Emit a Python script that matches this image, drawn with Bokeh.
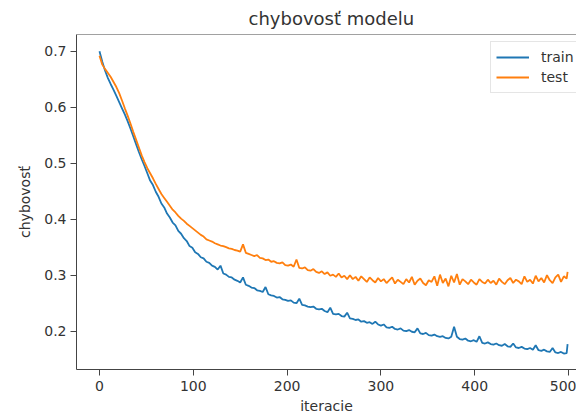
from bokeh.plotting import figure
from bokeh.models import Range1d, FixedTicker, Span, Legend, LegendItem
from bokeh.embed import file_html
from bokeh.resources import INLINE

iterations = list(range(0, 499, 3)) + [499]

train = [
    0.700, 0.681, 0.665, 0.652, 0.641, 0.631, 0.620, 0.609, 0.598, 0.587,
    0.575, 0.562, 0.548, 0.534, 0.520, 0.507, 0.495, 0.482, 0.469, 0.461,
    0.449, 0.440, 0.428, 0.421, 0.410, 0.403, 0.394, 0.389, 0.379, 0.374,
    0.366, 0.361, 0.352, 0.349, 0.341, 0.338, 0.332, 0.330, 0.324, 0.322,
    0.317, 0.315, 0.310, 0.317, 0.303, 0.301, 0.297, 0.296, 0.292, 0.290,
    0.287, 0.296, 0.283, 0.281, 0.278, 0.277, 0.273, 0.272, 0.270, 0.279,
    0.266, 0.264, 0.263, 0.260, 0.261, 0.257, 0.256, 0.254, 0.255, 0.251,
    0.250, 0.258, 0.247, 0.246, 0.244, 0.243, 0.244, 0.240, 0.239, 0.240,
    0.236, 0.234, 0.242, 0.231, 0.230, 0.231, 0.227, 0.226, 0.233, 0.223,
    0.222, 0.220, 0.221, 0.217, 0.218, 0.215, 0.216, 0.213, 0.217, 0.212,
    0.210, 0.212, 0.207, 0.206, 0.208, 0.204, 0.203, 0.205, 0.201, 0.200,
    0.202, 0.199, 0.198, 0.205, 0.196, 0.195, 0.197, 0.193, 0.192, 0.194,
    0.191, 0.190, 0.191, 0.188, 0.187, 0.190, 0.208, 0.190, 0.186, 0.185,
    0.187, 0.183, 0.182, 0.184, 0.181, 0.191, 0.179, 0.178, 0.180, 0.177,
    0.176, 0.178, 0.175, 0.174, 0.177, 0.173, 0.172, 0.178, 0.171, 0.170,
    0.172, 0.169, 0.168, 0.170, 0.167, 0.175, 0.166, 0.165, 0.167, 0.164,
    0.163, 0.170, 0.162, 0.161, 0.163, 0.160, 0.161,
    0.177,
]

test = [
    0.692, 0.676, 0.668, 0.661, 0.654, 0.645, 0.636, 0.625, 0.612, 0.598,
    0.585, 0.571, 0.556, 0.542, 0.528, 0.514, 0.502, 0.491, 0.482, 0.473,
    0.463, 0.454, 0.445, 0.438, 0.431, 0.424, 0.417, 0.412, 0.406, 0.401,
    0.397, 0.392, 0.388, 0.384, 0.380, 0.376, 0.372, 0.369, 0.364, 0.362,
    0.360, 0.357, 0.355, 0.353, 0.352, 0.350, 0.348, 0.347, 0.345, 0.344,
    0.342, 0.355, 0.340, 0.338, 0.336, 0.334, 0.336, 0.331, 0.330, 0.327,
    0.328, 0.324, 0.325, 0.322, 0.321, 0.323, 0.318, 0.317, 0.319, 0.315,
    0.328, 0.313, 0.312, 0.314, 0.309, 0.308, 0.311, 0.306, 0.304, 0.307,
    0.302, 0.305, 0.299, 0.301, 0.297, 0.303, 0.296, 0.299, 0.293, 0.300,
    0.293, 0.297, 0.290, 0.298, 0.293, 0.288, 0.296, 0.291, 0.287, 0.295,
    0.289, 0.293, 0.286, 0.291, 0.296, 0.285, 0.292, 0.288, 0.284, 0.293,
    0.287, 0.297, 0.283, 0.290, 0.294, 0.286, 0.282, 0.291, 0.288, 0.298,
    0.281, 0.301, 0.286, 0.294, 0.280, 0.299, 0.287, 0.302, 0.283, 0.293,
    0.289, 0.284, 0.292, 0.287, 0.283, 0.293, 0.288, 0.285, 0.292, 0.286,
    0.290, 0.283, 0.294, 0.288, 0.284, 0.291, 0.295, 0.286, 0.292, 0.289,
    0.284, 0.298, 0.288, 0.292, 0.285, 0.299, 0.289, 0.295, 0.287, 0.300,
    0.291, 0.286, 0.296, 0.301, 0.288, 0.298, 0.294,
    0.306,
]

x_ticks = [0, 100, 200, 300, 400, 500]
y_ticks = [0.2, 0.3, 0.4, 0.5, 0.6, 0.7]

FONT = "DejaVu Sans"
TXT = "#333333"
SPINE = "#444444"

p = figure(width=576, height=417, output_backend="svg", toolbar_location=None,
           x_range=Range1d(-24.5, 508.5), y_range=Range1d(0.1316, 0.7298),
           min_border_left=76, min_border_right=0, min_border_top=34,
           min_border_bottom=48, title="chybovosť modelu")
p.title.text_font = FONT
p.title.text_font_size = "18px"
p.title.text_font_style = "normal"
p.title.text_color = TXT
p.title.align = "left"
p.title.offset = 172
p.title.standoff = 11
p.outline_line_color = None
p.grid.visible = False
p.background_fill_color = "white"
p.border_fill_color = "white"

for ax in (p.xaxis[0], p.yaxis[0]):
    ax.axis_line_color = SPINE
    ax.major_tick_line_color = SPINE
    ax.minor_tick_line_color = None
    ax.major_tick_out = 6
    ax.major_tick_in = 0
    ax.major_label_text_font = FONT
    ax.major_label_text_font_size = "14px"
    ax.major_label_text_color = TXT
    ax.axis_label_text_font = FONT
    ax.axis_label_text_font_size = "14px"
    ax.axis_label_text_font_style = "normal"
    ax.axis_label_text_color = TXT

p.xaxis.ticker = FixedTicker(ticks=x_ticks)
p.yaxis.ticker = FixedTicker(ticks=y_ticks)
p.xaxis.axis_label = "iteracie"
p.yaxis.axis_label = "chybovosť"
p.xaxis.major_label_standoff = 5
p.xaxis.axis_label_standoff = 4
p.yaxis.major_label_standoff = 4
p.yaxis.axis_label_standoff = 8

p.add_layout(Span(location=0.7298, dimension="width", line_color=SPINE, line_width=1))

r_train = p.line(iterations, train, line_color="#1f77b4", line_width=1.8)
r_test = p.line(iterations, test, line_color="#ff7f0e", line_width=1.8)

legend = Legend(items=[LegendItem(label="train", renderers=[r_train]),
                       LegendItem(label="test", renderers=[r_test])],
                location=(414, 276))
legend.label_text_font = FONT
legend.label_text_font_size = "14px"
legend.label_text_color = TXT
legend.glyph_width = 33
legend.glyph_height = 20
legend.label_height = 20
legend.label_standoff = 12
legend.padding = 5
legend.spacing = 0
legend.margin = 0
legend.border_line_color = "#cccccc"
legend.background_fill_alpha = 0.8
p.add_layout(legend, "center")

open("out.html", "w").write(file_html(p, INLINE))
